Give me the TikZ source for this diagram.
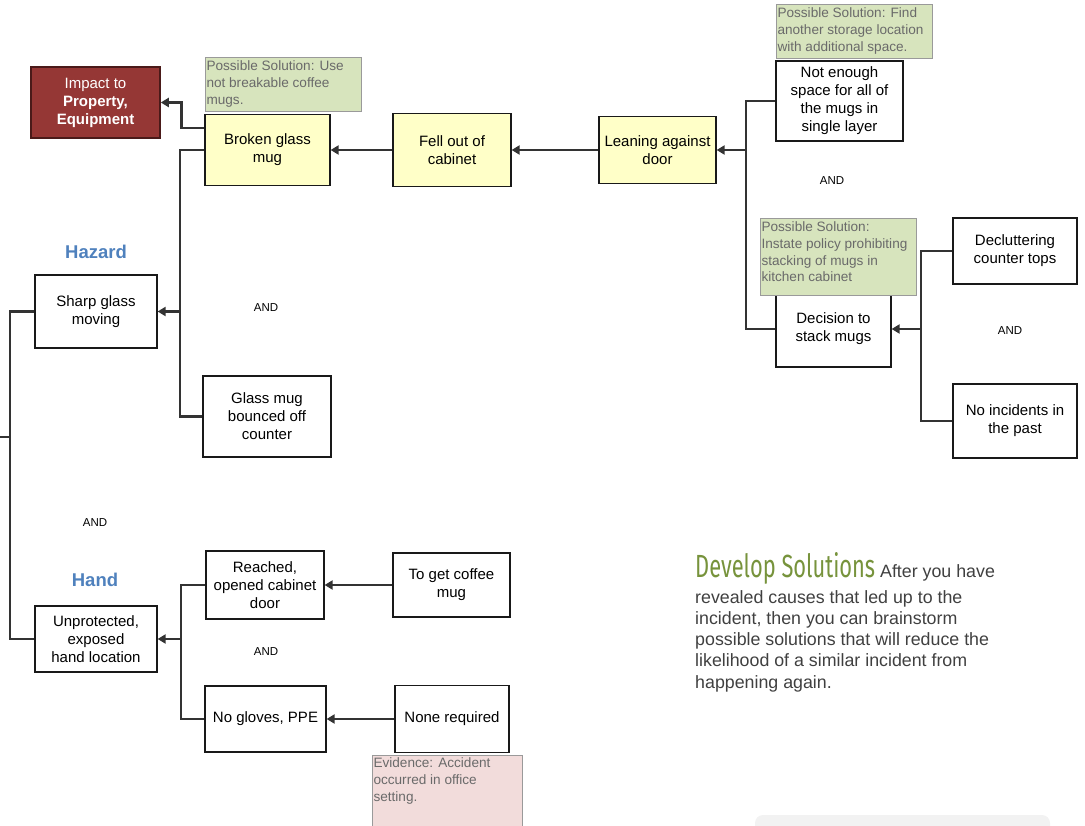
\documentclass[tikz,border=0pt]{standalone}
\usepackage{fontspec}
\usepackage{graphicx}
\setmainfont{Liberation Sans}
\newfontfamily\headfont{Fira Sans}
\usetikzlibrary{arrows.meta}

\definecolor{causeyellow}{HTML}{FFFFC8}
\definecolor{impactred}{HTML}{953735}
\definecolor{impactdark}{HTML}{4A1A19}
\definecolor{solgreen}{HTML}{D7E4BD}
\definecolor{solgray}{HTML}{9A9A9A}
\definecolor{soltext}{HTML}{6A6A6A}
\definecolor{evidpink}{HTML}{F2DCDB}
\definecolor{linkgray}{HTML}{333333}
\definecolor{hazblue}{HTML}{4F81BD}
\definecolor{headgreen}{HTML}{77933C}
\definecolor{bodygray}{HTML}{404040}
\definecolor{panelgray}{HTML}{F2F2F2}

\tikzset{
  box/.style={rectangle,draw=black!90,line width=1.2pt,align=center,
    font=\fontsize{15}{18}\selectfont,inner sep=1pt},
  cause/.style={box,fill=causeyellow},
  solution/.style={rectangle,draw=solgray,line width=1pt,fill=solgreen,
    text=soltext,align=left,font=\fontsize{13.6}{16.7}\selectfont,inner xsep=1.5pt,inner ysep=3pt},
  evidence/.style={solution,fill=evidpink},
  link/.style={draw=linkgray,line width=2.8pt},
  arr/.style={link,-{Triangle[length=8pt,width=9pt]}},
  andlabel/.style={font=\fontsize{11.5}{14}\selectfont},
  ptype/.style={font=\fontsize{18.5}{22}\selectfont\bfseries,text=hazblue},
}

\begin{document}
\begin{tikzpicture}[x=1pt,y=-1pt]
\useasboundingbox (0,0) rectangle (1085,826);

% impact and top chain
\node[rectangle,draw=impactdark,line width=1.5pt,fill=impactred,text=white,
  align=center,font=\fontsize{15}{18}\selectfont,minimum width=129pt,minimum height=71pt]
  (impact) at (95.5,102.5) {Impact to\\\textbf{Property,}\\\textbf{Equipment}};
\node[solution,minimum width=156pt,minimum height=54pt] (sol1) at (283,85)
  {\parbox[c][48pt][t]{153pt}{Possible Solution: Use\\not breakable coffee\\mugs.}};
\node[cause,minimum width=125pt,minimum height=71pt] (broken) at (267.5,150) {Broken glass\\mug};
\node[cause,minimum width=118pt,minimum height=73pt] (fell) at (452,150) {Fell out of\\cabinet};
\node[cause,minimum width=117pt,minimum height=67pt] (leaning) at (657.5,150) {Leaning against\\door};

% right side
\node[solution,minimum width=156pt,minimum height=54pt] (sol2) at (854,32)
  {\parbox[c][48pt][t]{153pt}{Possible Solution: Find\\another storage location\\with additional space.}};
\node[box,minimum width=127pt,minimum height=80pt] (notenough) at (839.5,101)
  {Not enough\\space for all of\\the mugs in\\single layer};
\node[andlabel] (and1) at (832,181) {AND};
\node[box,minimum width=115pt,minimum height=76pt] (decision) at (833.5,329) {Decision to\\stack mugs};
\node[solution,minimum width=156pt,minimum height=77pt] (sol3) at (838,257.5)
  {\parbox[c][71pt][t]{153pt}{Possible Solution:\\Instate policy prohibiting\\stacking of mugs in\\kitchen cabinet}};
\node[box,minimum width=124pt,minimum height=66pt] (declutter) at (1015,251) {Decluttering\\counter tops};
\node[andlabel] (and2) at (1010,331) {AND};
\node[box,minimum width=124pt,minimum height=74pt] (noinc) at (1015,421) {No incidents in\\the past};

% hazard branch
\node[ptype] (hazard) at (96,252) {Hazard};
\node[box,minimum width=122pt,minimum height=73pt] (sharp) at (96,311.5) {Sharp glass\\moving};
\node[andlabel] (and3) at (266,308) {AND};
\node[box,minimum width=128pt,minimum height=81pt] (bounced) at (267,416.5)
  {Glass mug\\bounced off\\counter};
\node[andlabel] (and4) at (95,523) {AND};

% hand branch
\node[ptype] (hand) at (95,580) {Hand};
\node[box,minimum width=122pt,minimum height=66pt] (unprot) at (96,639)
  {Unprotected,\\exposed\\hand location};
\node[box,minimum width=118pt,minimum height=68pt] (reached) at (265,585)
  {Reached,\\opened cabinet\\door};
\node[box,minimum width=117pt,minimum height=64pt] (toget) at (451.5,585) {To get coffee\\mug};
\node[andlabel] (and5) at (266,652) {AND};
\node[box,minimum width=121pt,minimum height=66pt] (nogloves) at (265.5,719) {No gloves, PPE};
\node[box,minimum width=114pt,minimum height=67pt] (nonereq) at (452,719) {None required};
\node[evidence,minimum width=150pt,minimum height=80pt] (evid) at (447,795)
  {\parbox[c][74pt][t]{147pt}{Evidence: Accident\\occurred in office\\setting.}};

% junctions
\coordinate (jTop) at (180,311.5);
\coordinate (jLeft) at (10,437);
\coordinate (jEdge) at (-2,437);
\coordinate (jLean) at (746,150);
\coordinate (jDec) at (921,329);
\coordinate (jHand) at (181,639);

% connectors
\draw[arr] ([yshift=22pt]broken.west) -- ++(-23,0) |- (impact.east);
\draw[link] (broken.west) -| (jTop) |- (bounced.west);
\draw[arr] (jTop) -- (sharp.east);
\draw[link] (sharp.west) -| (jLeft) |- (unprot.west);
\draw[link] (jLeft) -- (jEdge);
\draw[arr] (fell.west) -- (broken.east);
\draw[arr] (leaning.west) -- (fell.east);
\draw[link] (notenough.west) -| (jLean) |- (decision.west);
\draw[arr] (jLean) -- (leaning.east);
\draw[link] (declutter.west) -| (jDec) |- (noinc.west);
\draw[arr] (jDec) -- (decision.east);
\draw[link] (reached.west) -| (jHand) |- (nogloves.west);
\draw[arr] (jHand) -- (unprot.east);
\draw[arr] (toget.west) -- (reached.east);
\draw[arr] (nonereq.west) -- (nogloves.east);

% develop solutions text
\node[anchor=north west,align=left,inner sep=0pt,text=bodygray,
  font=\fontsize{17.8}{21.3}\selectfont] (develop) at (695,552)
  {{\color{headgreen}\resizebox{180pt}{25pt}{\headfont Develop Solutions}} After you have\\[4.5pt]
   revealed causes that led up to the\\
   incident, then you can brainstorm\\
   possible solutions that will reduce the\\
   likelihood of a similar incident from\\
   happening again.};
\fill[panelgray,rounded corners=8pt] (755,815) rectangle (1050,850);
\end{tikzpicture}
\end{document}
